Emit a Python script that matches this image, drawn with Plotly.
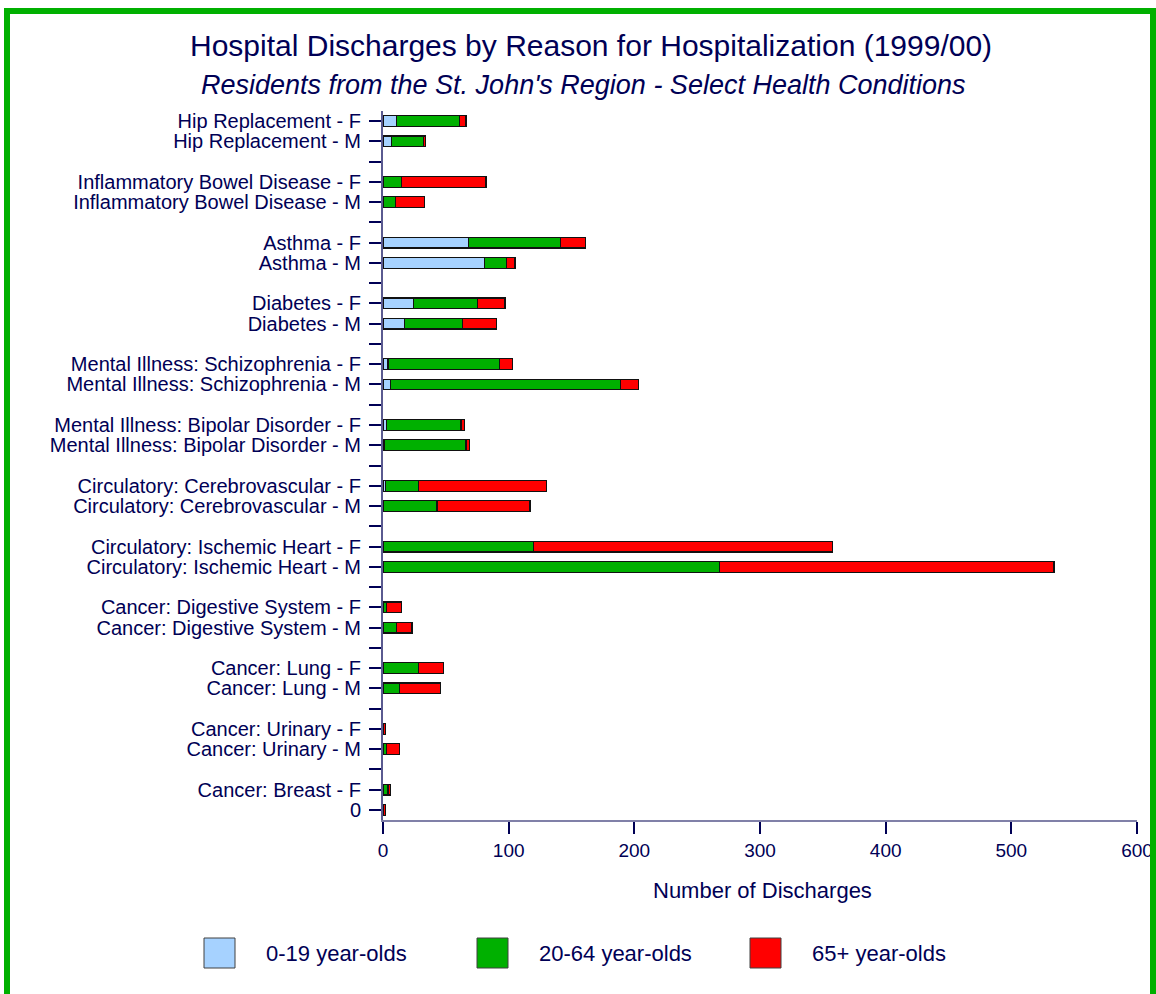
import plotly.graph_objects as go

# ---- data ----
labels = [
    "Hip Replacement - F", "Hip Replacement - M",
    "Inflammatory Bowel Disease - F", "Inflammatory Bowel Disease - M",
    "Asthma - F", "Asthma - M",
    "Diabetes - F", "Diabetes - M",
    "Mental Illness: Schizophrenia - F", "Mental Illness: Schizophrenia - M",
    "Mental Illness: Bipolar Disorder - F", "Mental Illness: Bipolar Disorder - M",
    "Circulatory: Cerebrovascular - F", "Circulatory: Cerebrovascular - M",
    "Circulatory: Ischemic Heart - F", "Circulatory: Ischemic Heart - M",
    "Cancer: Digestive System - F", "Cancer: Digestive System - M",
    "Cancer: Lung - F", "Cancer: Lung - M",
    "Cancer: Urinary - F", "Cancer: Urinary - M",
    "Cancer: Breast - F", "0",
]
age_0_19 = [11, 7, 0, 0, 68, 81, 24, 17, 4, 6, 3, 1, 2, 0, 0, 0, 0, 0, 0, 0, 0, 0, 0, 0]
age_20_64 = [50, 25, 15, 10, 73, 17, 51, 46, 89, 183, 59, 65, 26, 43, 120, 268, 3, 11, 28, 13, 0, 3, 4, 0]
age_65_plus = [5, 2, 67, 23, 20, 7, 22, 27, 10, 14, 3, 3, 102, 74, 238, 266, 12, 12, 20, 33, 2, 10, 2, 2]
series_names = ["0-19 year-olds", "20-64 year-olds", "65+ year-olds"]
x_ticks = [0, 100, 200, 300, 400, 500, 600]

title = "Hospital Discharges by Reason for Hospitalization (1999/00)"
subtitle = "Residents from the St. John's Region - Select Health Conditions"
x_title = "Number of Discharges"

# ---- styling ----
colors = ["#A6D2FF", "#00B000", "#FF0000"]
navy = "#000055"
font_family = "Liberation Sans, Arial, sans-serif"

W, H = 1156, 994
L, R, T, B = 383, 1137, 111, 820  # plot area in pixels


def px_x(p):
    return (p - L) / (R - L)


def px_y(p):
    return (B - p) / (B - T)


# category order with blank spacer rows between pairs
cat_order = []
for i in range(0, len(labels), 2):
    cat_order.extend(labels[i:i + 2])
    if i + 2 < len(labels):
        cat_order.append(" " * (i // 2 + 1))

fig = go.Figure()
for name, vals, col in zip(series_names, [age_0_19, age_20_64, age_65_plus], colors):
    fig.add_trace(go.Bar(
        y=labels, x=vals, name=name, orientation="h",
        marker=dict(color=col, line=dict(color="#111111", width=1.2)),
        width=0.53, showlegend=False,
    ))

shapes = []
annotations = []

# manual legend
leg_box_x = [204, 477, 750]
for i, (name, col) in enumerate(zip(series_names, colors)):
    bx = leg_box_x[i]
    shapes.append(dict(type="rect", xref="paper", yref="paper",
                       x0=px_x(bx), x1=px_x(bx + 31), y0=px_y(968), y1=px_y(938),
                       fillcolor=col, line=dict(color="#404040", width=1)))
    annotations.append(dict(xref="paper", yref="paper", x=px_x(bx + 60), y=px_y(953),
                            text=name, showarrow=False, xanchor="left", yanchor="middle",
                            font=dict(size=22, color=navy, family=font_family)))

# titles
annotations.append(dict(xref="paper", yref="paper", x=px_x(591), y=px_y(46),
                        text=title, showarrow=False, xanchor="center", yanchor="middle",
                        font=dict(size=30, color=navy, family=font_family)))
annotations.append(dict(xref="paper", yref="paper", x=px_x(583), y=px_y(85),
                        text="<i>" + subtitle + "</i>", showarrow=False,
                        xanchor="center", yanchor="middle",
                        font=dict(size=27, color=navy, family=font_family)))
annotations.append(dict(xref="paper", yref="paper", x=px_x(762), y=px_y(890),
                        text=x_title, showarrow=False, xanchor="center", yanchor="middle",
                        font=dict(size=22, color=navy, family=font_family)))

# green frame
shapes.append(dict(type="rect", xref="paper", yref="paper",
                   x0=px_x(7), x1=px_x(1153), y0=px_y(1010), y1=px_y(11),
                   line=dict(color="#00B000", width=6), fillcolor="rgba(0,0,0,0)",
                   layer="above"))

fig.update_layout(
    width=W, height=H,
    margin=dict(l=L, r=W - R, t=T, b=H - B, autoexpand=False),
    barmode="stack",
    paper_bgcolor="white", plot_bgcolor="white",
    font=dict(family=font_family, color=navy),
    shapes=shapes, annotations=annotations,
    xaxis=dict(range=[0, 600], tickvals=x_ticks, showgrid=False, zeroline=False,
               showline=True, linecolor="#8080A8", linewidth=2,
               ticks="outside", ticklen=12, tickwidth=1.5, tickcolor=navy,
               automargin=False,
               tickfont=dict(size=19, color=navy), fixedrange=True),
    yaxis=dict(type="category", categoryorder="array", categoryarray=cat_order,
               tickmode="array", tickvals=cat_order, ticktext=cat_order,
               range=[len(cat_order) - 0.5, -0.5], showgrid=False, zeroline=False,
               showline=True, linecolor="#5A5A90", linewidth=2,
               ticks="outside", ticklen=12, tickwidth=1.5, tickcolor=navy,
               ticklabelstandoff=4, automargin=False,
               tickfont=dict(size=20, color=navy), fixedrange=True),
)

fig.write_html("out.html", config={"displayModeBar": False},
               post_script="document.body.style.margin='0';document.body.style.padding='0';")
